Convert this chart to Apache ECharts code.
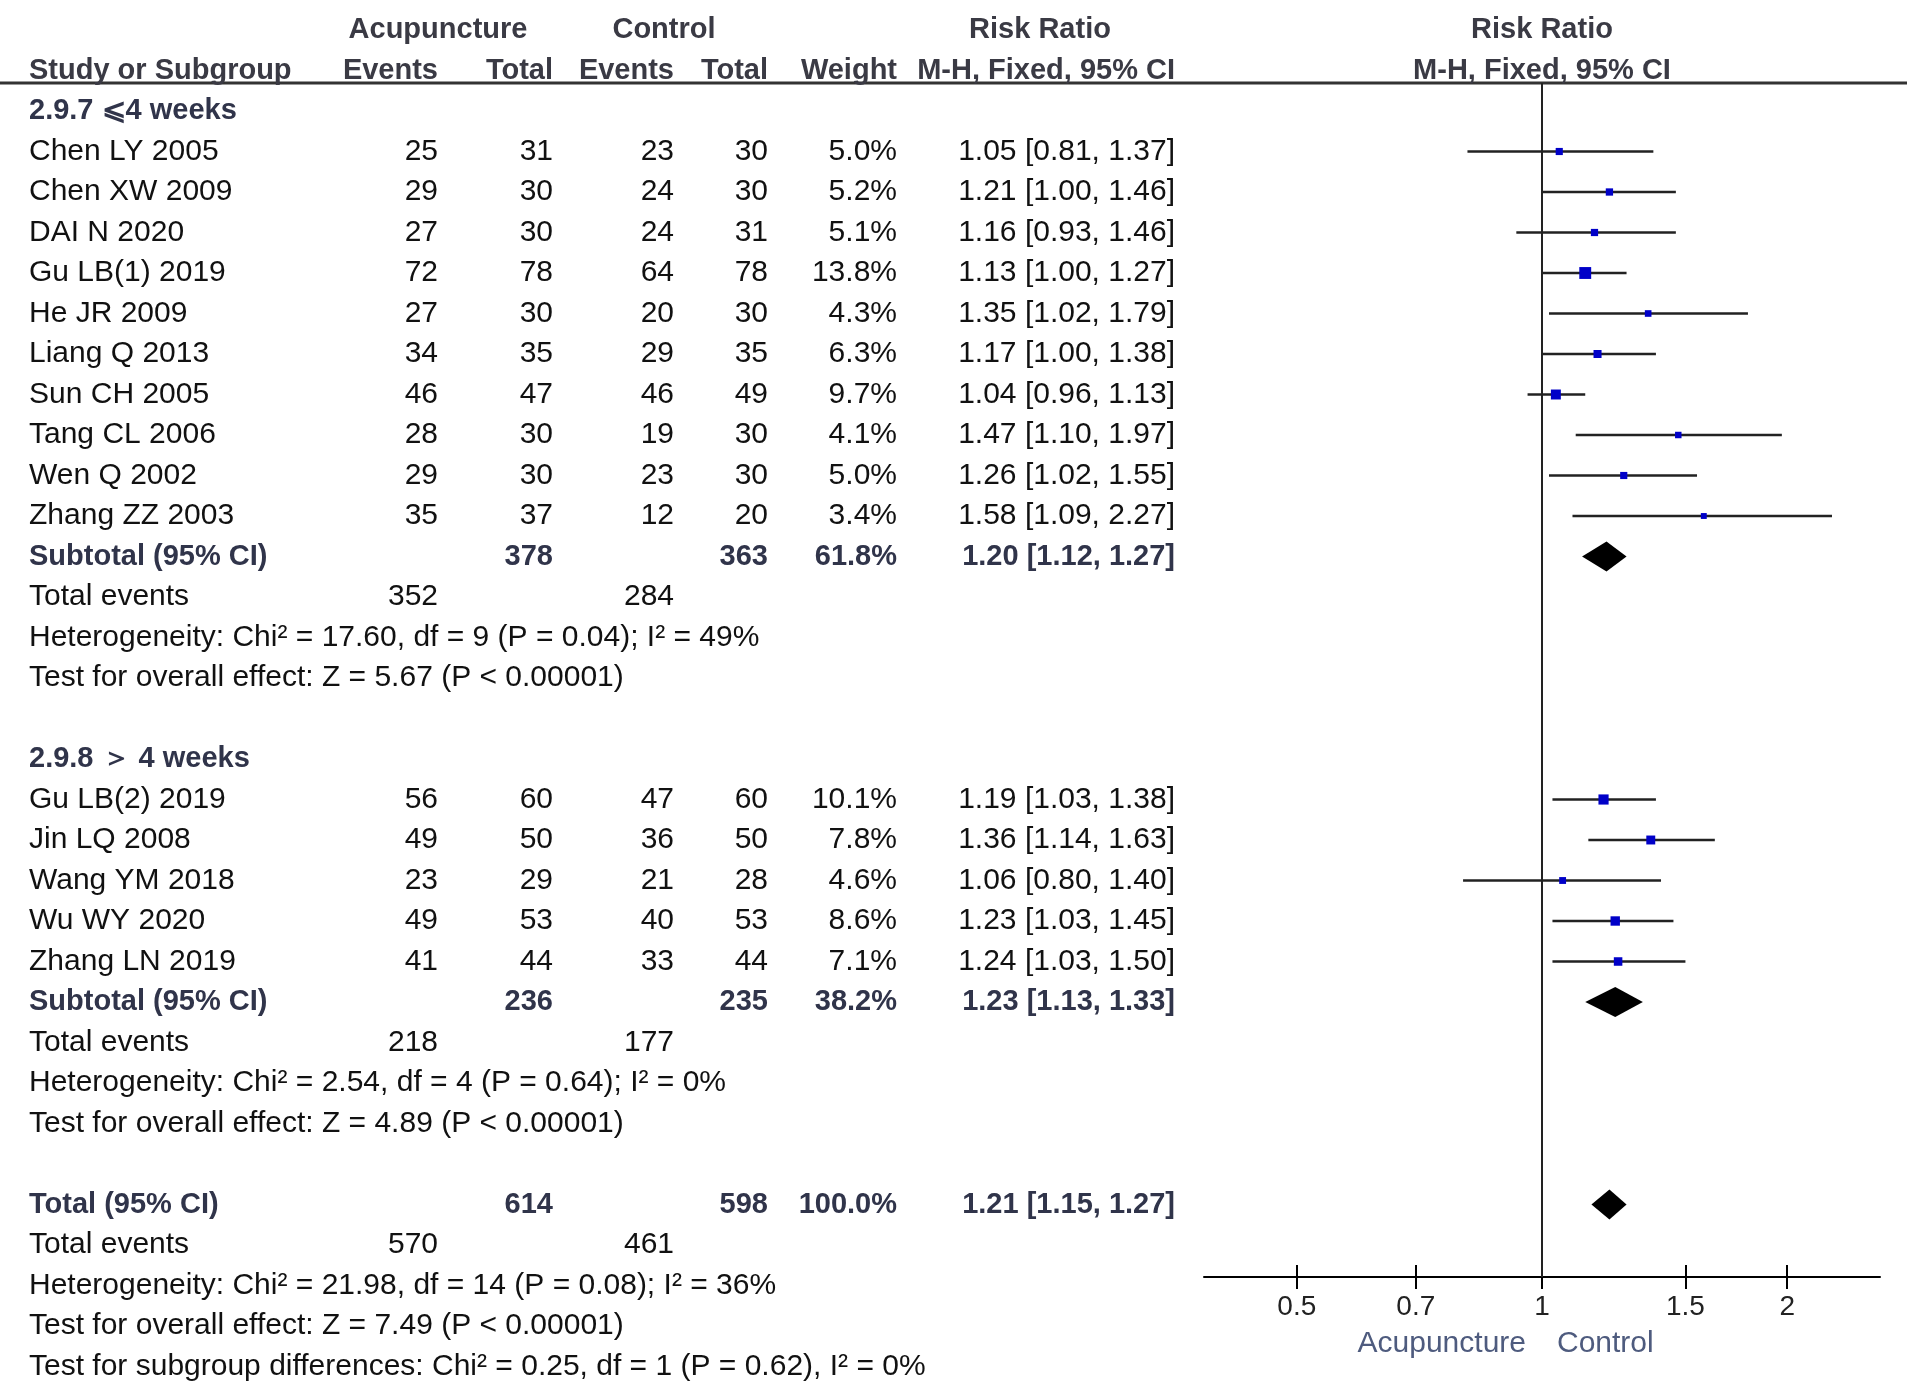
<!DOCTYPE html>
<html>
<head>
<meta charset="utf-8">
<title>Forest plot</title>
<script src="https://cdn.jsdelivr.net/npm/echarts@6.0.0/dist/echarts.min.js"></script>
<style>
html, body { margin: 0; padding: 0; background: #fff; }
#main { width: 1907px; height: 1381px; }
</style>
</head>
<body>
<div id="main"></div>
<script>
// subgroup 2.9.7 (<= 4 weeks)
var studies1 = ['Chen LY 2005', 'Chen XW 2009', 'DAI N 2020', 'Gu LB(1) 2019', 'He JR 2009',
	'Liang Q 2013', 'Sun CH 2005', 'Tang CL 2006', 'Wen Q 2002', 'Zhang ZZ 2003'];
var acupEvents1 = [25, 29, 27, 72, 27, 34, 46, 28, 29, 35];
var acupTotal1 = [31, 30, 30, 78, 30, 35, 47, 30, 30, 37];
var ctrlEvents1 = [23, 24, 24, 64, 20, 29, 46, 19, 23, 12];
var ctrlTotal1 = [30, 30, 31, 78, 30, 35, 49, 30, 30, 20];
var weight1 = [5.0, 5.2, 5.1, 13.8, 4.3, 6.3, 9.7, 4.1, 5.0, 3.4];
var rr1 = [1.05, 1.21, 1.16, 1.13, 1.35, 1.17, 1.04, 1.47, 1.26, 1.58];
var lo1 = [0.81, 1.00, 0.93, 1.00, 1.02, 1.00, 0.96, 1.10, 1.02, 1.09];
var hi1 = [1.37, 1.46, 1.46, 1.27, 1.79, 1.38, 1.13, 1.97, 1.55, 2.27];

// subgroup 2.9.8 (> 4 weeks)
var studies2 = ['Gu LB(2) 2019', 'Jin LQ 2008', 'Wang YM 2018', 'Wu WY 2020', 'Zhang LN 2019'];
var acupEvents2 = [56, 49, 23, 49, 41];
var acupTotal2 = [60, 50, 29, 53, 44];
var ctrlEvents2 = [47, 36, 21, 40, 33];
var ctrlTotal2 = [60, 50, 28, 53, 44];
var weight2 = [10.1, 7.8, 4.6, 8.6, 7.1];
var rr2 = [1.19, 1.36, 1.06, 1.23, 1.24];
var lo2 = [1.03, 1.14, 0.80, 1.03, 1.03];
var hi2 = [1.38, 1.63, 1.40, 1.45, 1.50];

// pooled rows: [subgroup 1, subgroup 2, overall]
var pooledLabels = ['Subtotal (95% CI)', 'Subtotal (95% CI)', 'Total (95% CI)'];
var pooledAcupTotal = [378, 236, 614];
var pooledCtrlTotal = [363, 235, 598];
var pooledWeight = [61.8, 38.2, 100.0];
var pooledRR = [1.20, 1.23, 1.21];
var pooledLo = [1.12, 1.13, 1.15];
var pooledHi = [1.27, 1.33, 1.27];
var totalAcupEvents = [352, 218, 570];
var totalCtrlEvents = [284, 177, 461];
var heterogeneity = [
	'Heterogeneity: Chi² = 17.60, df = 9 (P = 0.04); I² = 49%',
	'Heterogeneity: Chi² = 2.54, df = 4 (P = 0.64); I² = 0%',
	'Heterogeneity: Chi² = 21.98, df = 14 (P = 0.08); I² = 36%'
];
var overallEffect = [
	'Test for overall effect: Z = 5.67 (P < 0.00001)',
	'Test for overall effect: Z = 4.89 (P < 0.00001)',
	'Test for overall effect: Z = 7.49 (P < 0.00001)'
];
var subgroupDiff = 'Test for subgroup differences: Chi² = 0.25, df = 1 (P = 0.62), I² = 0%';
var sectionTitles = ['2.9.7 \u2A7D4 weeks', '2.9.8 \uFF1E 4 weeks'];
var tickValues = [0.5, 0.7, 1, 1.5, 2];

// layout (pixels)
var W = 1907, H = 1381;
var ROW0 = 111, ROWH = 40.5;
var LINE_Y = 83, AXIS_Y = 1277;
var PLOT_L = 1204, PLOT_R = 27;
var LN_LIM = Math.log(2.6);
var COL = {study: 29, acupEv: 438, acupTot: 553, ctrlEv: 674, ctrlTot: 768, weight: 897, ci: 1175};
var FONT = '"Liberation Sans", Arial, sans-serif';
var styles = {
	normal: {size: 30, weight: 'normal', color: '#111'},
	bold: {size: 29, weight: 'bold', color: '#30344a'},
	head: {size: 29, weight: 'bold', color: '#3a3a44'}
};

function rowAt(y) { return (y - ROW0) / ROWH; }
function ci(r, l, h) { return r.toFixed(2) + ' [' + l.toFixed(2) + ', ' + h.toFixed(2) + ']'; }

var texts = [];
var studyMarks = [];
var diamonds = [];

function txt(x, row, text, align, kind) {
	texts.push({x: x, row: row, text: String(text), align: align, kind: kind});
}

// header
txt(COL.acupEv, -2, 'Acupuncture', 'center', 'head');
txt(664, -2, 'Control', 'center', 'head');
txt(1040, -2, 'Risk Ratio', 'center', 'head');
txt(1542, -2, 'Risk Ratio', 'center', 'head');
txt(COL.study, -1, 'Study or Subgroup', 'left', 'head');
txt(COL.acupEv, -1, 'Events', 'right', 'head');
txt(COL.acupTot, -1, 'Total', 'right', 'head');
txt(COL.ctrlEv, -1, 'Events', 'right', 'head');
txt(COL.ctrlTot, -1, 'Total', 'right', 'head');
txt(COL.weight, -1, 'Weight', 'right', 'head');
txt(COL.ci, -1, 'M-H, Fixed, 95% CI', 'right', 'head');
txt(1542, -1, 'M-H, Fixed, 95% CI', 'center', 'head');

function addPooled(row, g) {
	txt(COL.study, row, pooledLabels[g], 'left', 'bold');
	txt(COL.acupTot, row, pooledAcupTotal[g], 'right', 'bold');
	txt(COL.ctrlTot, row, pooledCtrlTotal[g], 'right', 'bold');
	txt(COL.weight, row, pooledWeight[g].toFixed(1) + '%', 'right', 'bold');
	txt(COL.ci, row, ci(pooledRR[g], pooledLo[g], pooledHi[g]), 'right', 'bold');
	diamonds.push([Math.log(pooledLo[g]), Math.log(pooledHi[g]), Math.log(pooledRR[g]), row]);
	txt(COL.study, row + 1, 'Total events', 'left', 'normal');
	txt(COL.acupEv, row + 1, totalAcupEvents[g], 'right', 'normal');
	txt(COL.ctrlEv, row + 1, totalCtrlEvents[g], 'right', 'normal');
	txt(COL.study, row + 2, heterogeneity[g], 'left', 'normal');
	txt(COL.study, row + 3, overallEffect[g], 'left', 'normal');
}

function addGroup(start, g, names, ae, at, ce, ct, w, rr, lo, hi) {
	txt(COL.study, start, sectionTitles[g], 'left', 'bold');
	names.forEach(function (n, i) {
		var r = start + 1 + i;
		txt(COL.study, r, n, 'left', 'normal');
		txt(COL.acupEv, r, ae[i], 'right', 'normal');
		txt(COL.acupTot, r, at[i], 'right', 'normal');
		txt(COL.ctrlEv, r, ce[i], 'right', 'normal');
		txt(COL.ctrlTot, r, ct[i], 'right', 'normal');
		txt(COL.weight, r, w[i].toFixed(1) + '%', 'right', 'normal');
		txt(COL.ci, r, ci(rr[i], lo[i], hi[i]), 'right', 'normal');
		studyMarks.push([Math.log(lo[i]), Math.log(hi[i]), Math.log(rr[i]), r, w[i]]);
	});
	addPooled(start + 1 + names.length, g);
	return start + names.length + 6;
}

var next = addGroup(0, 0, studies1, acupEvents1, acupTotal1, ctrlEvents1, ctrlTotal1, weight1, rr1, lo1, hi1);
next = addGroup(next, 1, studies2, acupEvents2, acupTotal2, ctrlEvents2, ctrlTotal2, weight2, rr2, lo2, hi2);
addPooled(next, 2);
txt(COL.study, next + 4, subgroupDiff, 'left', 'normal');

var lnTicks = tickValues.map(function (v) { return Math.log(v); });
function tickLabel(v) {
	for (var i = 0; i < tickValues.length; i++) {
		if (Math.abs(lnTicks[i] - v) < 1e-9) return String(tickValues[i]);
	}
	return '';
}

var chartDom = document.getElementById('main');
var myChart = echarts.init(chartDom);
var option;
option = {
	animation: false,
	backgroundColor: '#fff',
	grid: [
		{left: 0, right: 0, top: 0, bottom: 0},
		{left: PLOT_L, right: PLOT_R, top: LINE_Y, bottom: H - AXIS_Y}
	],
	xAxis: [
		{gridIndex: 0, type: 'value', min: 0, max: W, show: false},
		{
			gridIndex: 1, type: 'value', min: -LN_LIM, max: LN_LIM, position: 'bottom',
			axisLine: {onZero: false, lineStyle: {color: '#000', width: 2}},
			axisTick: {length: 12, customValues: lnTicks, lineStyle: {color: '#000', width: 2}},
			axisLabel: {
				customValues: lnTicks, formatter: tickLabel, margin: 16,
				fontSize: 28, fontFamily: FONT, color: '#222'
			},
			splitLine: {show: false}
		},
		{
			// upper half of the ticks: a top axis shifted down onto the bottom line
			gridIndex: 1, type: 'value', min: -LN_LIM, max: LN_LIM, position: 'top',
			offset: -(AXIS_Y - LINE_Y),
			axisLine: {show: false, onZero: false},
			axisTick: {length: 12, customValues: lnTicks, lineStyle: {color: '#000', width: 2}},
			axisLabel: {show: false},
			splitLine: {show: false}
		}
	],
	yAxis: [
		{gridIndex: 0, type: 'value', inverse: true, min: rowAt(0), max: rowAt(H), show: false},
		{gridIndex: 1, type: 'value', inverse: true, min: rowAt(LINE_Y), max: rowAt(AXIS_Y), show: false}
	],
	graphic: [
		{type: 'line', shape: {x1: 0, y1: LINE_Y, x2: W, y2: LINE_Y}, style: {stroke: '#333', lineWidth: 3}},
		{type: 'text', x: 1526, y: 1344, style: {text: 'Acupuncture', align: 'right', verticalAlign: 'middle',
			fontSize: 30, fontFamily: FONT, fill: '#4e5b7e'}},
		{type: 'text', x: 1557, y: 1344, style: {text: 'Control', align: 'left', verticalAlign: 'middle',
			fontSize: 30, fontFamily: FONT, fill: '#4e5b7e'}}
	],
	series: [
		{
			type: 'custom',
			xAxisIndex: 0,
			yAxisIndex: 0,
			silent: true,
			data: texts.map(function (t) { return [t.x, t.row]; }),
			renderItem: function (params, api) {
				var t = texts[params.dataIndex];
				var st = styles[t.kind];
				var p = api.coord([api.value(0), api.value(1)]);
				return {
					type: 'text', x: p[0], y: p[1],
					style: {
						text: t.text, align: t.align, verticalAlign: 'middle',
						fontSize: st.size, fontWeight: st.weight, fontFamily: FONT, fill: st.color
					}
				};
			}
		},
		{
			// line of no effect (RR = 1)
			type: 'line',
			xAxisIndex: 1,
			yAxisIndex: 1,
			silent: true,
			symbol: 'none',
			lineStyle: {color: '#222', width: 2},
			data: [[0, rowAt(LINE_Y)], [0, rowAt(AXIS_Y)]]
		},
		{
			type: 'custom',
			xAxisIndex: 1,
			yAxisIndex: 1,
			silent: true,
			data: studyMarks,
			renderItem: function (params, api) {
				var row = api.value(3);
				var a = api.coord([api.value(0), row]);
				var b = api.coord([api.value(1), row]);
				var c = api.coord([api.value(2), row]);
				var s = 3.2 * Math.sqrt(api.value(4));
				return {
					type: 'group',
					children: [
						{type: 'line', shape: {x1: a[0], y1: a[1], x2: b[0], y2: b[1]},
							style: {stroke: '#222', lineWidth: 2.5}},
						{type: 'rect', shape: {x: c[0] - s / 2, y: c[1] - s / 2, width: s, height: s},
							style: {fill: '#0000c8'}}
					]
				};
			}
		},
		{
			type: 'custom',
			xAxisIndex: 1,
			yAxisIndex: 1,
			silent: true,
			data: diamonds,
			renderItem: function (params, api) {
				var row = api.value(3);
				var l = api.coord([api.value(0), row]);
				var h = api.coord([api.value(1), row]);
				var m = api.coord([api.value(2), row]);
				var d = 15;
				return {
					type: 'polygon',
					shape: {points: [[l[0], l[1]], [m[0], m[1] - d], [h[0], h[1]], [m[0], m[1] + d]]},
					style: {fill: '#000'}
				};
			}
		}
	]
};

option && myChart.setOption(option);
</script>
</body>
</html>
